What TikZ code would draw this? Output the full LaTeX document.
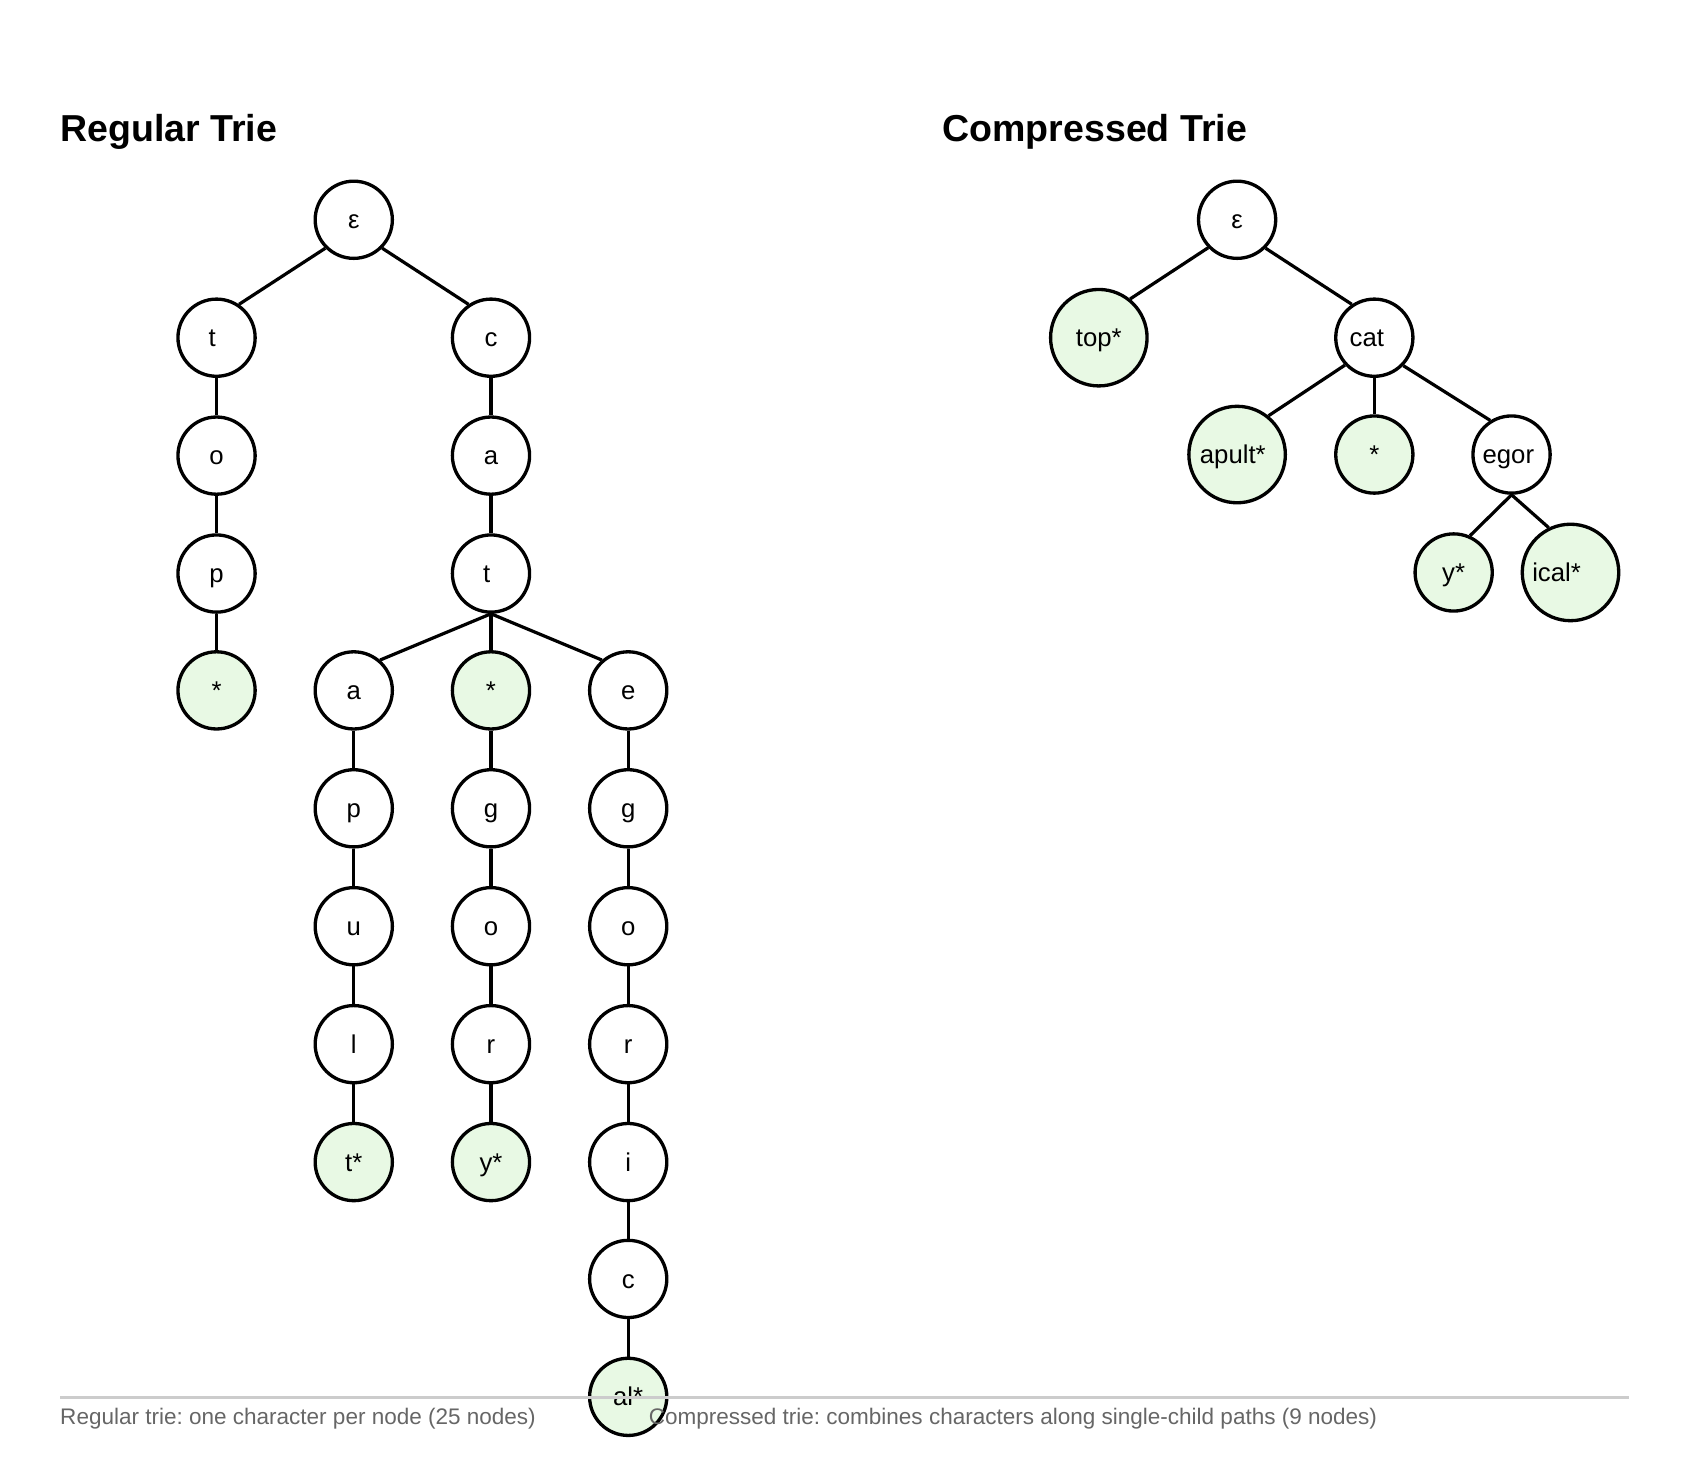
\documentclass[tikz,border=0pt]{standalone}
\usepackage{fontspec}
\setmainfont{Liberation Sans}
\usepackage{tikz}
\usetikzlibrary{positioning}

\definecolor{wordgreen}{RGB}{232,249,228}
\definecolor{captiongray}{RGB}{102,102,102}
\definecolor{rulegray}{RGB}{204,204,204}

\begin{document}
\begin{tikzpicture}[
    x=1pt, y=-1pt,
    every node/.style={font=\fontsize{24}{28}\selectfont},
    % Plain trie node
    trienode/.style={draw, circle, line width=3.1pt, fill=white,
                     minimum size=72pt, inner sep=0pt,
                     text height=21pt, text depth=4pt},
    % Node that ends a word
    wordend/.style={trienode, fill=wordgreen},
    widewordend/.style={wordend, minimum size=90pt},
    trieedge/.style={line width=3pt},
    titletext/.style={anchor=base west, inner sep=0pt,
                      font=\fontsize{35}{40}\selectfont\bfseries},
    captiontext/.style={anchor=base west, inner sep=0pt, text=captiongray,
                        font=\fontsize{21}{25}\selectfont\frenchspacing}
]
\useasboundingbox (0,0) rectangle (1569,1384);

% === TITLES ===
\node [titletext] (regtitle) at (56,132) {Regular Trie};
\node [titletext] (comptitle) at (879,132) {Compressed Trie};

% === REGULAR TRIE ===

% Root and first letters
	\node [trienode] (rroot) at (330,205) {ε};
	\node [trienode] (rt) at (202,315) {\hspace*{-8pt}t};
	\node [trienode] (rc) at (458,315) {c};

% top
	\node [trienode] (rto) at (202,425) {o};
	\node [trienode] (rtop) at (202,535) {p};
	\node [wordend] (rtopend) at (202,644) {*};

% cat
	\node [trienode] (rca) at (458,425) {a};
	\node [trienode] (rcat) at (458,535) {\hspace*{-8pt}t};

% catapult
	\node [trienode] (rcata) at (330,644) {a};
	\node [trienode] (rcatap) at (330,754) {p};
	\node [trienode] (rcatapu) at (330,864) {u};
	\node [trienode] (rcatapul) at (330,974) {l};
	\node [wordend] (rcatapult) at (330,1084) {t*};

% cat* and catgory
	\node [wordend] (rcatend) at (458,644) {*};
	\node [trienode] (rcatg) at (458,754) {g};
	\node [trienode] (rcatgo) at (458,864) {o};
	\node [trienode] (rcatgor) at (458,974) {r};
	\node [wordend] (rcatgory) at (458,1084) {y*};

% categorical
	\node [trienode] (rcate) at (586,644) {e};
	\node [trienode] (rcateg) at (586,754) {g};
	\node [trienode] (rcatego) at (586,864) {o};
	\node [trienode] (rcategor) at (586,974) {r};
	\node [trienode] (rcategori) at (586,1084) {i};
	\node [trienode] (rcategoric) at (586,1193) {c};
	\node [wordend] (rcategorical) at (586,1303) {al*};

% === REGULAR TRIE EDGES ===
\draw[trieedge] (rroot.-135) -- (rt.56);
\draw[trieedge] (rroot.-45) -- (rc.124);
\draw[trieedge] (rt) -- (rto);
\draw[trieedge] (rto) -- (rtop);
\draw[trieedge] (rtop) -- (rtopend);
\draw[trieedge] (rc) -- (rca);
\draw[trieedge] (rca) -- (rcat);
% three children leave from the bottom of t
\draw[trieedge] (rcat.south) -- (rcata.49);
\draw[trieedge] (rcat.south) -- (rcatend.north);
\draw[trieedge] (rcat.south) -- (rcate.131);
\draw[trieedge] (rcata) -- (rcatap);
\draw[trieedge] (rcatap) -- (rcatapu);
\draw[trieedge] (rcatapu) -- (rcatapul);
\draw[trieedge] (rcatapul) -- (rcatapult);
\draw[trieedge] (rcatend) -- (rcatg);
\draw[trieedge] (rcatg) -- (rcatgo);
\draw[trieedge] (rcatgo) -- (rcatgor);
\draw[trieedge] (rcatgor) -- (rcatgory);
\draw[trieedge] (rcate) -- (rcateg);
\draw[trieedge] (rcateg) -- (rcatego);
\draw[trieedge] (rcatego) -- (rcategor);
\draw[trieedge] (rcategor) -- (rcategori);
\draw[trieedge] (rcategori) -- (rcategoric);
\draw[trieedge] (rcategoric) -- (rcategorical);

% === COMPRESSED TRIE ===
	\node [trienode] (croot) at (1154,205) {ε};
	\node [widewordend] (ctop) at (1025,315) {top*};
	\node [trienode] (ccat) at (1282,315) {\hspace*{-14pt}cat};
	\node [widewordend] (capult) at (1154,424) {\hspace*{-8pt}apult*};
	\node [wordend] (ccatend) at (1282,424) {*};
	\node [trienode] (cegor) at (1410,424) {\hspace*{-6pt}egor};
	\node [wordend] (cy) at (1356,534) {y*};
	\node [widewordend] (cical) at (1465,534) {\hspace*{-26pt}ical*};

% === COMPRESSED TRIE EDGES ===
\draw[trieedge] (croot.-136) -- (ctop.51);
\draw[trieedge] (croot.-45) -- (ccat.124);
\draw[trieedge] (ccat.-137) -- (capult.51);
\draw[trieedge] (ccat) -- (ccatend);
\draw[trieedge] (ccat.-44) -- (cegor.122);
%TTD: egor children both start at its bottom point
\draw[trieedge] (cegor.south) -- (cy.66);
\draw[trieedge] (cegor.south) -- (cical.116);

% === CAPTIONS ===
\coordinate (ruleleft) at (56,1304);
\coordinate (ruleright) at (1520,1304);
\draw[rulegray, line width=2.8pt] (ruleleft) -- (ruleright);
\node [captiontext] (regcaption) at (56,1329) {Regular trie: one character per node (25 nodes)};
\node [captiontext] (compcaption) at (605,1329) {Compressed trie: combines characters along single-child paths (9 nodes)};

\end{tikzpicture}
\end{document}
